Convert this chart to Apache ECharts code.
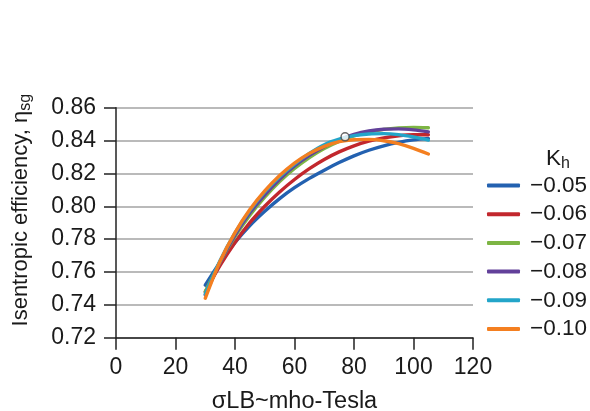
<!DOCTYPE html>
<html>
<head>
<meta charset="utf-8">
<script src="https://cdn.jsdelivr.net/npm/echarts@6/dist/echarts.min.js"></script>
<style>
  html, body { margin: 0; padding: 0; background: #ffffff; }
  #chart { width: 590px; height: 411px; }
</style>
</head>
<body>
<div id="chart"></div>
<script>
// Magnetic interaction parameter σLB (mho-Tesla)
const sigmaLB = [30, 35, 40, 45, 50, 55, 60, 65, 70, 75, 80, 85, 90, 95, 100, 105];

// Isentropic efficiency for each load factor K_h
const kh005 = [0.752, 0.766, 0.778, 0.7883, 0.797, 0.8047, 0.8113, 0.817, 0.822, 0.8266, 0.8307, 0.8341, 0.8368, 0.8389, 0.8404, 0.8413];
const kh006 = [0.748, 0.764, 0.778, 0.790, 0.800, 0.8087, 0.8163, 0.8229, 0.8285, 0.8331, 0.8368, 0.8396, 0.8416, 0.8429, 0.8435, 0.8435];
const kh007 = [0.748, 0.766, 0.7815, 0.7945, 0.8055, 0.815, 0.823, 0.8297, 0.8352, 0.8395, 0.8428, 0.8452, 0.8468, 0.8477, 0.848, 0.8478];
const kh008 = [0.746, 0.766, 0.7825, 0.796, 0.807, 0.8165, 0.8245, 0.831, 0.8363, 0.8405, 0.8437, 0.8458, 0.8469, 0.8471, 0.8465, 0.8453];
const kh009 = [0.7465, 0.767, 0.7838, 0.7975, 0.8087, 0.818, 0.8257, 0.8322, 0.8375, 0.8408, 0.843, 0.844, 0.8442, 0.8436, 0.8422, 0.8403];
const kh010 = [0.744, 0.7665, 0.784, 0.798, 0.8093, 0.8187, 0.8263, 0.8322, 0.8365, 0.8393, 0.8405, 0.8407, 0.8399, 0.8381, 0.8353, 0.8318];

const khLabels = ['\u22120.05', '\u22120.06', '\u22120.07', '\u22120.08', '\u22120.09', '\u22120.10'];
const khSeries = [kh005, kh006, kh007, kh008, kh009, kh010];
const khColors = ['#2361b0', '#c2272d', '#7db544', '#62409a', '#23a5c9', '#f47f20'];

// Operating point marked on the curves
const designPoint = [[77, 0.8423]];

const xTicks = { min: 0, max: 120, interval: 20 };
const yTicks = { min: 0.72, max: 0.86, interval: 0.02 };

const FONT = '"Liberation Sans", Arial, Helvetica, sans-serif';
const TEXT = '#1a1a1a';

const chart = echarts.init(document.getElementById('chart'), null, { renderer: 'canvas' });

const lineSeries = khSeries.map((vals, i) => ({
  name: khLabels[i],
  type: 'line',
  data: sigmaLB.map((x, j) => [x, vals[j]]),
  smooth: 0.3,
  showSymbol: false,
  symbol: 'none',
  lineStyle: { width: 3.4, color: khColors[i], cap: 'round' },
  itemStyle: { color: khColors[i] },
  z: 2 + i
}));

const subStyle = { fontFamily: FONT, fontSize: 16, color: TEXT, verticalAlign: 'bottom', padding: [10, 0, 0, 0] };

chart.setOption({
  animation: false,
  backgroundColor: '#ffffff',
  textStyle: { fontFamily: FONT },
  grid: { left: 116, right: 117, top: 107.7, bottom: 73.3, containLabel: false, outerBoundsMode: 'none' },
  title: {
    text: 'K{sub|h}',
    left: 546,
    top: 146,
    padding: 0,
    textStyle: {
      fontFamily: FONT,
      fontSize: 22.5,
      fontWeight: 'normal',
      color: TEXT,
      rich: { sub: subStyle }
    }
  },
  legend: {
    data: khLabels,
    orient: 'vertical',
    left: 487,
    top: 174,
    padding: 0,
    itemWidth: 33,
    itemHeight: 4,
    itemGap: 5.7,
    icon: 'roundRect',
    textStyle: { fontFamily: FONT, fontSize: 22.5, color: TEXT, lineHeight: 22, padding: [0, 0, 0, 5] }
  },
  xAxis: {
    type: 'value',
    min: xTicks.min,
    max: xTicks.max,
    interval: xTicks.interval,
    name: '\u03c3LB~mho-Tesla',
    nameLocation: 'middle',
    nameGap: 52,
    nameTextStyle: { fontFamily: FONT, fontSize: 23.5, color: TEXT },
    axisLine: { show: true, lineStyle: { color: '#222', width: 1.5 } },
    axisTick: { show: true, length: 12, lineStyle: { color: '#222', width: 1.5 } },
    axisLabel: { fontFamily: FONT, fontSize: 23, color: TEXT, margin: 18 },
    splitLine: { show: false }
  },
  yAxis: {
    type: 'value',
    min: yTicks.min,
    max: yTicks.max,
    interval: yTicks.interval,
    name: 'Isentropic efficiency, \u03b7{sub|sg}',
    nameLocation: 'middle',
    nameGap: 82,
    nameTextStyle: {
      fontFamily: FONT,
      fontSize: 22,
      color: TEXT,
      padding: [0, 0, 0, 25],
      rich: { sub: subStyle }
    },
    axisLine: { show: true, lineStyle: { color: '#222', width: 1.5 } },
    axisTick: { show: true, length: 12, lineStyle: { color: '#222', width: 1.5 } },
    axisLabel: {
      fontFamily: FONT, fontSize: 23, color: TEXT, margin: 20,
      formatter: v => v.toFixed(2)
    },
    splitLine: { show: true, lineStyle: { color: '#a3a3a3', width: 1.6 } }
  },
  series: lineSeries.concat([{
    name: 'design',
    type: 'scatter',
    data: designPoint,
    symbol: 'circle',
    symbolSize: 8,
    itemStyle: { color: '#ffffff', borderColor: '#444', borderWidth: 1.5 },
    z: 20
  }])
});
</script>
</body>
</html>
